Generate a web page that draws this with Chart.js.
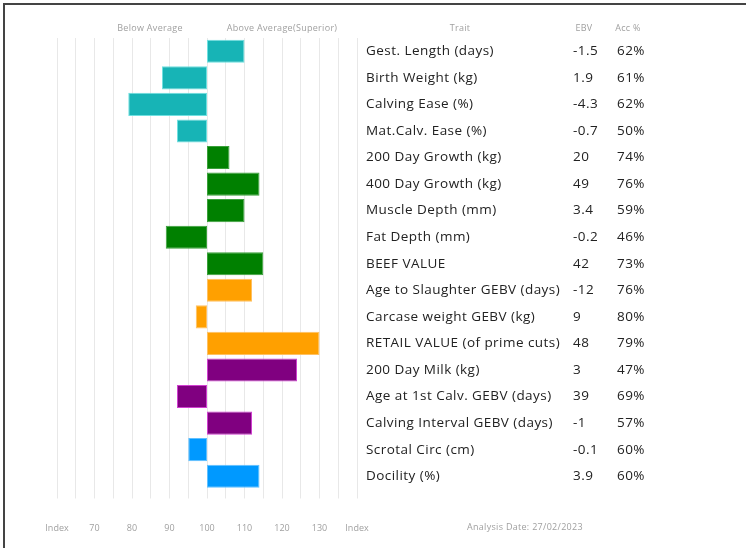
<!DOCTYPE html>
<html>
<head>
<meta charset="utf-8">
<script src="https://cdn.jsdelivr.net/npm/chart.js@4/dist/chart.umd.min.js"></script>
<style>
  html, body { margin: 0; padding: 0; background: #fff; }
  #wrap { position: relative; width: 746px; height: 548px; overflow: hidden; }
  #frame { position: absolute; left: 3px; top: 3px; right: -10px; bottom: -10px;
           border-left: 2px solid #444; border-top: 2px solid #444; pointer-events: none; }
  canvas { position: absolute; left: 0; top: 0; }
</style>
</head>
<body>
<div id="wrap">
  <canvas id="c" width="746" height="548"></canvas>
  <div id="frame"></div>
</div>
<script>
const traits = [
  "Gest. Length (days)", "Birth Weight (kg)", "Calving Ease (%)", "Mat.Calv. Ease (%)",
  "200 Day Growth (kg)", "400 Day Growth (kg)", "Muscle Depth (mm)", "Fat Depth (mm)",
  "BEEF VALUE", "Age to Slaughter GEBV (days)", "Carcase weight GEBV (kg)",
  "RETAIL VALUE (of prime cuts)", "200 Day Milk (kg)", "Age at 1st Calv. GEBV (days)",
  "Calving Interval GEBV (days)", "Scrotal Circ (cm)", "Docility (%)"
];
const indexValues = [110, 88, 79, 92, 106, 114, 110, 89, 115, 112, 97, 130, 124, 92, 112, 95, 114];
const ebvValues = ["-1.5", "1.9", "-4.3", "-0.7", "20", "49", "3.4", "-0.2", "42", "-12", "9", "48", "3", "39", "-1", "-0.1", "3.9"];
const accValues = ["62%", "61%", "62%", "50%", "74%", "76%", "59%", "46%", "73%", "76%", "80%", "79%", "47%", "69%", "57%", "60%", "60%"];
const groups = ["calving","calving","calving","calving","growth","growth","growth","growth","growth",
                "carcase","carcase","carcase","maternal","maternal","maternal","other","other"];
const averageIndex = 100;
const axisMin = 60, axisMax = 140;

const groupFill = { calving: "#17b4b6", growth: "#008000", carcase: "#ffa000", maternal: "#800080", other: "#0099ff" };
const groupEdge = { calving: "#6fe0e0", growth: "#3aa03a", carcase: "#ffc060", maternal: "#d040d0", other: "#60c0ff" };

const FAMILY = '"Open Sans", "Noto Sans", sans-serif';
const TEXT_FONT = '13.5px ' + FAMILY;
const SMALL_FONT = '9px ' + FAMILY;

const tablePlugin = {
  id: 'tablePlugin',
  afterDraw(chart) {
    const ctx = chart.ctx;
    const y = chart.scales.y;
    ctx.save();
    ctx.textBaseline = 'middle';
    // headers
    ctx.font = SMALL_FONT;
    ctx.letterSpacing = '0.3px';
    ctx.fillStyle = '#a0a0a0';
    ctx.textAlign = 'center';
    ctx.fillText('Below Average', 150, 28);
    ctx.fillText('Above Average(Superior)', 282, 28);
    ctx.fillText('Trait', 460, 28);
    ctx.fillText('EBV', 584, 28);
    ctx.fillText('Acc %', 628, 28);
    ctx.textAlign = 'left';
    ctx.fillText('Analysis Date: 27/02/2023', 467, 527);
    // rows
    ctx.font = TEXT_FONT;
    ctx.letterSpacing = '0.45px';
    ctx.fillStyle = '#222222';
    traits.forEach((t, i) => {
      const py = y.getPixelForValue(i);
      ctx.fillText(t, 366, py);
      const w = ctx.measureText(t).width;
      const ex = Math.max(573, 366 + w + 3);
      ctx.fillText(ebvValues[i], ex, py);
      ctx.fillText(accValues[i], 617, py);
    });
    ctx.restore();
  }
};

new Chart(document.getElementById('c'), {
  type: 'bar',
  data: {
    labels: traits,
    datasets: [{
      data: indexValues.map(v => [averageIndex, v]),
      backgroundColor: groups.map(g => groupFill[g]),
      borderColor: groups.map(g => groupEdge[g]),
      borderWidth: 1,
      borderSkipped: false,
      categoryPercentage: 1,
      barPercentage: 0.87
    }]
  },
  options: {
    indexAxis: 'y',
    responsive: false,
    animation: false,
    layout: { padding: { left: 57, right: 389, top: 38, bottom: 0 } },
    plugins: { legend: { display: false }, tooltip: { enabled: false } },
    scales: {
      y: { display: false },
      x: {
        min: axisMin, max: axisMax,
        afterFit(scale) { scale.height = 58.5; },
        grid: { color: '#e8e8e8', tickLength: 9 },
        border: { display: false },
        ticks: {
          stepSize: 5,
          autoSkip: false,
          maxRotation: 0,
          padding: 25,
          color: '#a0a0a0',
          font: { size: 9, family: FAMILY },
          callback(v) {
            if (v === axisMin || v === axisMax) return 'Index';
            return v % 10 === 0 ? String(v) : '';
          }
        }
      }
    }
  },
  plugins: [tablePlugin]
});
</script>
</body>
</html>
